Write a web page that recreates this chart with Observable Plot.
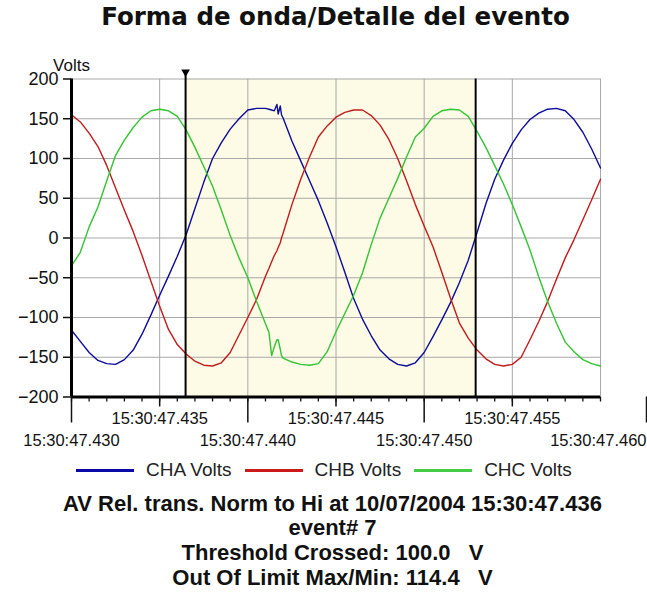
<!DOCTYPE html>
<html>
<head>
<meta charset="utf-8">
<script src="https://cdn.jsdelivr.net/npm/d3@7"></script>
<script src="https://cdn.jsdelivr.net/npm/@observablehq/plot@0.6"></script>
<style>
  body { margin: 0; background: #fff; }
  #wrap { position: relative; width: 647px; height: 603px; overflow: hidden; background: #fff; }
  .title { position: absolute; left: 71px; width: 529px; top: 2px; height: 47px; line-height: 47px; text-align: center;
           font: bold 24.5px "DejaVu Sans"; color: #111; white-space: nowrap; }
  #chart { position: absolute; left: 0; top: 48px; }
  .legend { position: absolute; left: 76px; top: 458px; height: 24px; display: flex; align-items: center;
            font: 19px "Liberation Sans"; color: #222; white-space: nowrap; }
  .legend .item { display: flex; align-items: center; margin-right: 13px; }
  .legend .sw { width: 58px; height: 3px; margin-right: 12px; }
  .info { position: absolute; left: 0; width: 665px; height: 24px; line-height: 24px; text-align: center;
          font: bold 22px "Liberation Sans"; color: #111; white-space: pre; }
</style>
</head>
<body>
<div id="wrap">
  <div class="title" id="title"></div>
  <div id="chart"></div>
  <div class="legend" id="legend"></div>
  <div class="info" id="l1" style="top:491px"></div>
  <div class="info" id="l2" style="top:515px"></div>
  <div class="info" id="l3" style="top:540px"></div>
  <div class="info" id="l4" style="top:565px"></div>
</div>
<script>
// ---- data (time in ms after 15:30:47.430, volts) ----
const tMs = [0,0.5,1,1.5,2,2.5,3,3.5,4,4.5,5,5.5,6,6.5,7,7.5,8,8.5,9,9.5,10,10.5,11,
  11.2,11.35,11.5,11.65,11.72,11.84,11.91,
  12,12.5,13,13.5,14,14.5,15,15.5,16,16.5,17,17.5,18,18.5,19,19.5,20,20.5,21,21.5,22,22.5,
  23,23.5,24,24.5,25,25.5,26,26.5,27,27.5,28,28.5,29,29.5,30];

const chaVolts = [-116,-130,-144,-154,-158,-159,-153,-141,-121,-97,-72,-48,-23,4,37,70,100,120,137,150,161,163,163,
  162,161,160,168,156,166,155,
  151,122,97,72,47,19,-11,-43,-76,-102,-123,-141,-152,-159,-161,-157,-144,-124,-103,-81,-56,-28,
  7,43,74,98,119,136,149,157,162,163,160,149,133,112,88];

const chbVolts = [155,146,132,115,91,63,35,8,-22,-54,-86,-115,-134,-146,-155,-160,-161,-157,-144,-122,-100,-77,-48,
  -38,-30,-22,-16,-12,-6,0,
  6,42,74,102,127,141,152,158,161,161,154,142,124,100,72,42,15,-11,-43,-76,-107,-126,
  -141,-152,-159,-161,-159,-150,-128,-105,-80,-52,-25,-2,23,48,74];

const chcVolts = [-35,-18,14,39,72,104,123,139,152,160,162,160,153,136,114,90,65,35,3,-25,-50,-80,-108,
  -119,-148,-137,-128,-128,-140,-148,
  -151,-156,-159,-160,-158,-143,-118,-95,-72,-44,-8,25,50,75,102,127,138,153,160,162,161,153,
  134,114,91,68,42,14,-15,-49,-80,-107,-131,-143,-153,-158,-161];

const seriesNames = ["CHA Volts", "CHB Volts", "CHC Volts"];
const seriesColors = ["#0c0c9c", "#c21b1b", "#33c433"];
const swatchColors = ["#0a0aa8", "#cc1a1a", "#44cc44"];

const yTicks = [-200, -150, -100, -50, 0, 50, 100, 150, 200];
const xTickValues = [0, 5, 10, 15, 20, 25, 30];
const xTickLabels = ["15:30:47.430", "15:30:47.435", "15:30:47.440", "15:30:47.445",
                     "15:30:47.450", "15:30:47.455", "15:30:47.460"];
const xUpperRow = [5, 15, 25];
const xLowerRow = [0, 10, 20];
const xLastTick = [30];
const xMinorTicks = d3.range(0, 31, 1);
const cursorMs = [6.47, 22.92];

const titleText = "Forma de onda/Detalle del evento";
const yLabel = "Volts";
const infoLines = [
  "AV Rel. trans. Norm to Hi at 10/07/2004 15:30:47.436",
  "event# 7",
  "Threshold Crossed: 100.0   V",
  "Out Of Limit Max/Min: 114.4   V"
];

// ---- build ----
const seriesValues = [chaVolts, chbVolts, chcVolts];
const rows = [];
seriesNames.forEach((s, k) => tMs.forEach((t, i) => rows.push({t, v: seriesValues[k][i], s})));
const fmt = d => xTickLabels[xTickValues.indexOf(d)];

const chart = Plot.plot({
  width: 647,
  height: 407,
  marginTop: 30.5,
  marginBottom: 58.5,
  marginLeft: 71,
  marginRight: 47,
  style: {fontFamily: "Liberation Sans", fontSize: "17px", color: "#111", background: "transparent"},
  x: {domain: [0, 30], label: null},
  y: {domain: [-200, 200], label: null},
  color: {domain: seriesNames, range: seriesColors},
  marks: [
    Plot.rect([cursorMs], {x1: d => d[0], x2: d => d[1], fill: "#fdfbe6"}),
    Plot.gridX(xTickValues, {stroke: "#a8a8a8", strokeOpacity: 1}),
    Plot.gridY(yTicks, {stroke: "#a8a8a8", strokeOpacity: 1}),
    Plot.line(rows, {x: "t", y: "v", z: "s", stroke: "s", strokeWidth: 1.4}),
    Plot.ruleX([cursorMs[0]], {x: d => d, stroke: "black", strokeWidth: 2, insetTop: -5}),
    Plot.ruleX([cursorMs[1]], {x: d => d, stroke: "black", strokeWidth: 2}),
    Plot.dot([cursorMs[0]], {x: d => d, frameAnchor: "top", dy: -7, symbol: "triangle", r: 3.2, rotate: 180, fill: "black"}),
    Plot.ruleX([0], {stroke: "black", strokeWidth: 3}),
    Plot.ruleY([-200], {stroke: "black", strokeWidth: 3}),
    Plot.axisY(yTicks, {tickSize: 8, tickPadding: 5, fontSize: 18, strokeWidth: 1.5, label: null}),
    Plot.axisX(xMinorTicks, {tickSize: 5, strokeWidth: 1.3, fill: "none", label: null}),
    Plot.axisX(xUpperRow, {tickSize: 10, tickPadding: 5.5, strokeWidth: 1.5, tickFormat: fmt, fontSize: 16.5, label: null}),
    Plot.axisX(xLowerRow, {tickSize: 26, tickPadding: 11, strokeWidth: 1.5, tickFormat: fmt, fontSize: 16.5, label: null}),
    Plot.axisX(xLastTick, {tickSize: 26, tickPadding: 11, strokeWidth: 1.5, tickFormat: fmt, fontSize: 16.5, textAnchor: "end", dx: 46, label: null}),
    Plot.text([yLabel], {text: d => d, frameAnchor: "top-left", dy: -20, textAnchor: "middle", fontSize: 17, fill: "#111"})
  ]
});
document.getElementById("chart").appendChild(chart);

document.getElementById("title").textContent = titleText;
const legend = document.getElementById("legend");
seriesNames.forEach((s, k) => {
  const item = document.createElement("div");
  item.className = "item";
  const sw = document.createElement("span");
  sw.className = "sw";
  sw.style.background = swatchColors[k];
  const tx = document.createElement("span");
  tx.textContent = s;
  item.appendChild(sw);
  item.appendChild(tx);
  legend.appendChild(item);
});
infoLines.forEach((t, i) => document.getElementById("l" + (i + 1)).textContent = t);
</script>
</body>
</html>
